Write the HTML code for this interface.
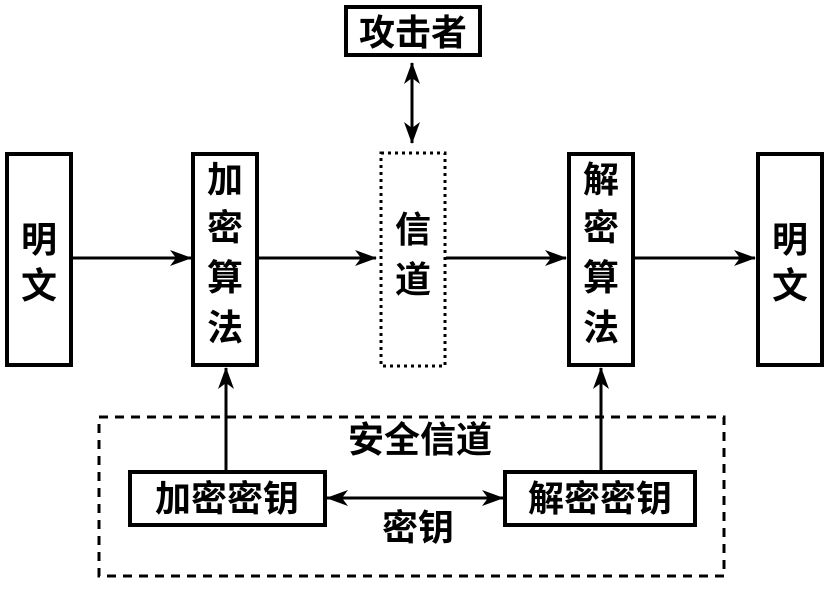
<!DOCTYPE html>
<html><head><meta charset="utf-8"><style>
body{margin:0;background:#fff;}
svg text{font-family:"Liberation Sans","Noto Sans CJK SC",sans-serif;font-weight:bold;fill:#000;}
</style></head><body>
<svg width="835" height="586" viewBox="0 0 835 586" xmlns="http://www.w3.org/2000/svg">
<defs><marker id="a" markerWidth="10" markerHeight="10" refX="9" refY="5" orient="auto-start-reverse" markerUnits="userSpaceOnUse"><path d="M0,0 L10,5 L0,10 L3,5 z" fill="#000"/></marker>
<marker id="b" markerWidth="22" markerHeight="16" refX="21" refY="8" orient="auto-start-reverse" markerUnits="userSpaceOnUse"><path d="M0,0 L22,8 L0,16 L6,8 z" fill="#000"/></marker></defs>
<g fill="none" stroke="#000" stroke-width="4">
<rect x="7" y="154" width="64" height="211"/>
<rect x="193" y="154" width="64" height="211"/>
<rect x="569" y="154" width="64" height="211"/>
<rect x="758" y="154" width="64" height="211"/>
<rect x="346" y="7" width="134" height="48"/>
<rect x="130" y="472" width="195" height="53"/>
<rect x="505" y="472" width="190" height="53"/>
</g>
<rect x="381" y="153" width="64" height="213" fill="none" stroke="#000" stroke-width="3" stroke-dasharray="3,4"/>
<rect x="99" y="417" width="625" height="159" fill="none" stroke="#000" stroke-width="3" stroke-dasharray="9,7"/>
<g stroke="#000" stroke-width="3" fill="none">
<line x1="71" y1="258" x2="191" y2="258" marker-end="url(#b)"/>
<line x1="257" y1="258" x2="376" y2="258" marker-end="url(#b)"/>
<line x1="446" y1="258" x2="566" y2="258" marker-end="url(#b)"/>
<line x1="633" y1="258" x2="755" y2="258" marker-end="url(#b)"/>
<line x1="412" y1="63" x2="412" y2="143" marker-start="url(#b)" marker-end="url(#b)"/>
<line x1="226" y1="472" x2="226" y2="368" marker-end="url(#b)"/>
<line x1="601" y1="472" x2="601" y2="368" marker-end="url(#b)"/>
<line x1="327" y1="498" x2="503" y2="498" marker-start="url(#b)" marker-end="url(#b)"/>
</g>
<g font-size="36" text-anchor="middle">
<text x="39" y="252">明</text><text x="39" y="298">文</text>
<text x="790" y="252">明</text><text x="790" y="298">文</text>
<text x="225" y="192">加</text><text x="225" y="240">密</text><text x="225" y="290">算</text><text x="225" y="340">法</text>
<text x="601" y="192">解</text><text x="601" y="240">密</text><text x="601" y="290">算</text><text x="601" y="340">法</text>
<text x="413" y="242">信</text><text x="413" y="292">道</text>
<text x="413" y="45">攻击者</text>
<text x="420" y="452">安全信道</text>
<text x="227" y="511">加密密钥</text>
<text x="600" y="511">解密密钥</text>
<text x="418" y="540">密钥</text>
</g>
</svg>
</body></html>
